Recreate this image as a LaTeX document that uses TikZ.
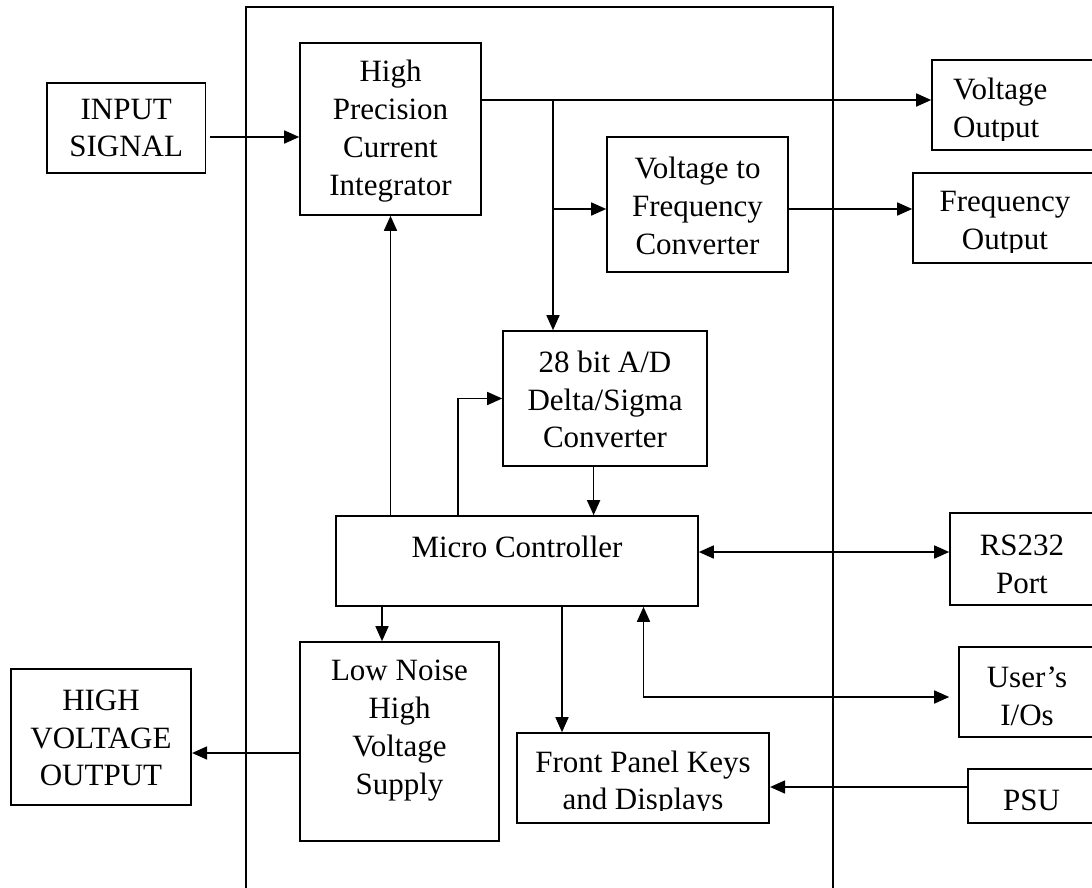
\documentclass[tikz,border=0pt]{standalone}
\usepackage{fontspec}
\setmainfont{Liberation Serif}
\usetikzlibrary{arrows.meta}
\tikzset{
  box/.style={draw, line width=1.6pt, inner sep=0pt},
  lbl/.style={align=center, inner sep=0pt, font=\fontsize{31}{37.8}\selectfont},
  arr/.style={line width=1.6pt, -{Triangle[length=15pt,width=13pt]}},
  darr/.style={line width=1.6pt, {Triangle[length=15pt,width=13pt]}-{Triangle[length=15pt,width=13pt]}}
}
\begin{document}
\begin{tikzpicture}[x=1pt,y=-1pt]
\useasboundingbox (0,0) rectangle (1092,887);
% outer enclosure
\node[box, minimum width=587pt, minimum height=893pt] (outer) at (539.5,453.5) {};
% boxes
\node[box, minimum width=158.5pt, minimum height=90pt] (inp) at (126.25,128) {};
\node[lbl] (inpt) at (126.25,128) {INPUT\\SIGNAL};
\node[box, minimum width=181pt, minimum height=172pt] (hpci) at (390.5,129) {};
\node[lbl] (hpcit) at (390.5,131) {High\\Precision\\Current\\Integrator};
\node[box, minimum width=178pt, minimum height=90pt] (vo) at (1021,105) {};
\begin{scope}
  \clip (932,60) rectangle (1092,140);
  \node[lbl, anchor=west, align=left] (vot) at (953,111) {Voltage\\Output};
\end{scope}
\node[box, minimum width=181pt, minimum height=135pt] (vf) at (697.5,204.5) {};
\node[lbl] (vft) at (697.5,206) {Voltage to\\Frequency\\Converter};
\node[box, minimum width=184pt, minimum height=90pt] (fo) at (1005,218) {};
\begin{scope}
  \clip (913,173) rectangle (1092,252);
  \node[lbl] (fot) at (1005,224) {Frequency\\Output};
\end{scope}
\node[box, minimum width=204pt, minimum height=135pt] (ad) at (605,398.5) {};
\node[lbl] (adt) at (605,399.5) {28 bit A/D\\Delta/Sigma\\Converter};
\node[box, minimum width=362pt, minimum height=90pt] (mc) at (517,561) {};
\node[lbl] (mct) at (517,547) {Micro Controller};
\node[box, minimum width=144pt, minimum height=92pt] (rs) at (1022,559) {};
\node[lbl] (rst) at (1022,564) {RS232\\Port};
\node[box, minimum width=136pt, minimum height=90pt] (uio) at (1027,692) {};
\node[lbl] (uiot) at (1027,696.5) {User’s\\I/Os};
\node[box, minimum width=127pt, minimum height=54pt] (psu) at (1031.5,796) {};
\node[lbl] (psut) at (1031.5,800) {PSU};
\node[box, minimum width=252.5pt, minimum height=90pt] (fp) at (643,778) {};
\begin{scope}
  \clip (517,733) rectangle (769,810);
  \node[lbl] (fpt) at (643,783.5) {Front Panel Keys\\and Displays};
\end{scope}
\node[box, minimum width=199pt, minimum height=199pt] (lnhv) at (399.5,741.5) {};
\node[lbl] (lnhvt) at (399.5,730.5) {Low Noise\\High\\Voltage\\Supply};
\node[box, minimum width=180.5pt, minimum height=136pt] (hvo) at (101,737) {};
\node[lbl] (hvot) at (101,738) {HIGH\\VOLTAGE\\OUTPUT};
% connectors
\coordinate (br) at (553,100);
\draw[arr, shorten <=3.5pt] (inp.east |- 0,137) -- (hpci.west |- 0,137);
\draw[arr] (hpci.east |- br) -- (vo.west |- br);
\draw[arr] (br) -- (br |- ad.north);
\draw[arr] (br |- 0,209) -- (vf.west |- 0,209);
\draw[arr] (vf.east |- 0,209) -- (fo.west |- 0,209);
\draw[arr] (mc.north -| hpci.south) -- (hpci.south);
\draw[arr] (mc.north -| 458,0) |- (ad.west);
\draw[arr] (ad.south -| 593.6,0) -- (mc.north -| 593.6,0);
\draw[darr] (mc.east |- 0,552) -- (rs.west |- 0,552);
\draw[darr, shorten >=9pt] (mc.south -| 643.5,0) |- (uio.west |- 0,697);
\draw[arr] (mc.south -| 562,0) -- (fp.north -| 562,0);
\draw[arr] (mc.south -| 382,0) -- (lnhv.north -| 382,0);
\draw[arr] (lnhv.west |- 0,753) -- (hvo.east |- 0,753);
\draw[arr] (psu.west |- 0,787) -- (fp.east |- 0,787);
\end{tikzpicture}
\end{document}
